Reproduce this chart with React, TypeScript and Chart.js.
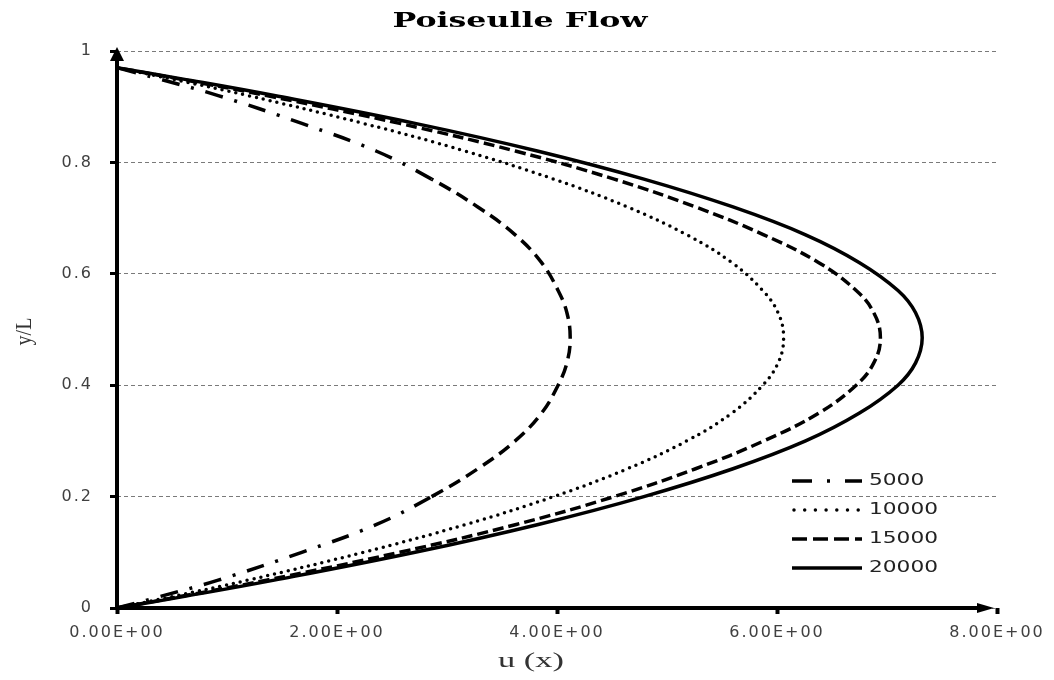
import React, { useEffect, useRef } from "react";
import { Chart, registerables } from "chart.js";

Chart.register(...registerables);

// y/L levels at which the velocity profiles were read
const yLevels = [0, 0.02, 0.05, 0.1, 0.15, 0.2, 0.25, 0.3, 0.35, 0.4, 0.44, 0.485, 0.53, 0.57, 0.62, 0.67, 0.72, 0.77, 0.82, 0.87, 0.92, 0.95, 0.97];

// u(x) for each series
const u5000 = [0, 0.38, 0.92, 1.68, 2.36, 2.86, 3.28, 3.62, 3.86, 4.01, 4.09, 4.12, 4.09, 4.01, 3.86, 3.62, 3.28, 2.86, 2.36, 1.68, 0.92, 0.38, 0];
const u10000 = [0, 0.49, 1.19, 2.24, 3.17, 3.97, 4.64, 5.18, 5.59, 5.87, 6.01, 6.06, 6.01, 5.87, 5.59, 5.18, 4.64, 3.97, 3.17, 2.24, 1.19, 0.49, 0];
const u15000 = [0, 0.56, 1.36, 2.57, 3.63, 4.52, 5.26, 5.88, 6.38, 6.72, 6.88, 6.94, 6.88, 6.72, 6.38, 5.88, 5.26, 4.52, 3.63, 2.57, 1.36, 0.56, 0];
const u20000 = [0, 0.59, 1.43, 2.71, 3.83, 4.79, 5.6, 6.26, 6.75, 7.1, 7.26, 7.32, 7.26, 7.1, 6.75, 6.26, 5.6, 4.79, 3.83, 2.71, 1.43, 0.59, 0];

const seriesNames = ["5000", "10000", "15000", "20000"];
const seriesValues = [u5000, u10000, u15000, u20000];

const xTickLabels = ["0.00E+00", "2.00E+00", "4.00E+00", "6.00E+00", "8.00E+00"];
const yTickLabels = ["0", "0.2", "0.4", "0.6", "0.8", "1"];

const titleText = "Poiseulle Flow";
const xTitle = "u (x)";
const yTitle = "y/L";

// styles
const dashDot = [18, 12, 3, 12];
const midDash = [13, 7];
const curveDash = [[18, 12, 3, 12], [0, 7], [11, 5], []];
const curveCap = ["butt", "round", "butt", "butt"];
const legendDash = [[20, 15, 3, 15], [0, 10.7], [15, 6], []];

const decorPlugin = {
  id: "decor",
  beforeDraw(chart: any) {
    chart.ctx.letterSpacing = "2px";
  },
  afterDatasetsDraw(chart: any) {
    const { ctx, chartArea: a } = chart;
    ctx.save();
    ctx.setLineDash([]);
    ctx.strokeStyle = "#000";
    ctx.fillStyle = "#000";
    ctx.lineWidth = 4;
    ctx.lineCap = "butt";
    ctx.beginPath();
    ctx.moveTo(a.left, a.bottom + 2);
    ctx.lineTo(a.left, a.top + 8);
    ctx.moveTo(a.left - 2, a.bottom);
    ctx.lineTo(a.right - 16, a.bottom);
    ctx.stroke();
    ctx.beginPath();
    ctx.moveTo(a.left, a.top - 4);
    ctx.lineTo(a.left - 7, a.top + 10);
    ctx.lineTo(a.left + 7, a.top + 10);
    ctx.closePath();
    ctx.fill();
    ctx.beginPath();
    ctx.moveTo(a.right - 3, a.bottom);
    ctx.lineTo(a.right - 20, a.bottom - 5);
    ctx.lineTo(a.right - 20, a.bottom + 5);
    ctx.closePath();
    ctx.fill();
    ctx.restore();
  },
  afterDraw(chart: any) {
    const { ctx, chartArea: a } = chart;
    ctx.save();
    ctx.letterSpacing = "0px";
    ctx.setLineDash([]);
    // title
    ctx.fillStyle = "#000";
    ctx.font = 'bold 21px "DejaVu Serif"';
    ctx.textAlign = "center";
    ctx.textBaseline = "alphabetic";
    const tw = ctx.measureText(titleText).width;
    ctx.save();
    ctx.translate((a.left + a.right) / 2 - 37, 27);
    ctx.scale(255 / tw, 1);
    ctx.fillText(titleText, 0, 0);
    ctx.restore();
    // x title
    ctx.fillStyle = "#333";
    ctx.font = '20px "Liberation Serif"';
    const xw = ctx.measureText(xTitle).width;
    ctx.save();
    ctx.translate(531, a.bottom + 59);
    ctx.scale(66 / xw, 1);
    ctx.fillText(xTitle, 0, 0);
    ctx.restore();
    // y title
    ctx.save();
    ctx.translate(31, (a.top + a.bottom) / 2 + 2);
    ctx.rotate(-Math.PI / 2);
    ctx.scale(1, 1.15);
    ctx.fillText(yTitle, 0, 0);
    ctx.restore();
    // legend
    ctx.font = '16px "DejaVu Sans"';
    ctx.textAlign = "left";
    ctx.textBaseline = "middle";
    for (let i = 0; i < seriesNames.length; i++) {
      const y = a.top + 430 + i * 29;
      const x0 = a.right - 205;
      const x1 = a.right - 135;
      ctx.save();
      ctx.strokeStyle = "#000";
      ctx.lineWidth = 3.5;
      ctx.lineCap = curveCap[i];
      ctx.setLineDash(legendDash[i]);
      ctx.beginPath();
      ctx.moveTo(i === 1 ? x0 + 2 : x0, y);
      ctx.lineTo(x1, y);
      ctx.stroke();
      ctx.restore();
      ctx.fillStyle = "#222";
      const lw = ctx.measureText(seriesNames[i]).width;
      ctx.save();
      ctx.translate(a.right - 128, y);
      ctx.scale((seriesNames[i].length * 13.8) / lw, 1);
      ctx.fillText(seriesNames[i], 0, 0);
      ctx.restore();
    }
    ctx.restore();
  },
};

export default function App() {
  const ref = useRef<HTMLCanvasElement | null>(null);

  useEffect(() => {
    document.body.style.margin = "0";
    const canvas = ref.current;
    if (!canvas) return;
    const tickFont = { family: '"DejaVu Sans"', size: 16 };
    const chart = new Chart(canvas, {
      type: "scatter",
      data: {
        datasets: seriesNames.map((name, i) => ({
          label: name,
          data: yLevels.map((y, j) => ({ x: seriesValues[i][j], y })),
          showLine: true,
          borderColor: "#000",
          backgroundColor: "#000",
          borderWidth: 3.5,
          borderDash: curveDash[i],
          borderCapStyle: curveCap[i],
          pointRadius: 0,
          pointHoverRadius: 0,
          tension: 0.4,
          fill: false,
          clip: false,
          segment:
            i === 0
              ? {
                  borderDash: (c: any) => {
                    const y0 = c.p0.parsed.y;
                    const y1 = c.p1.parsed.y;
                    return Math.min(y0, y1) >= 0.2 && Math.max(y0, y1) <= 0.77 ? midDash : dashDot;
                  },
                }
              : undefined,
        })) as any,
      },
      options: {
        animation: false,
        responsive: false,
        devicePixelRatio: 1,
        layout: { padding: { top: 51, right: 57, left: 0, bottom: 0 } },
        plugins: {
          legend: { display: false },
          title: { display: false },
          tooltip: { enabled: false },
        },
        scales: {
          x: {
            type: "linear",
            min: 0,
            max: 8,
            ticks: {
              stepSize: 2,
              autoSkip: false,
              maxRotation: 0,
              font: tickFont,
              color: "#404040",
              padding: 9,
              callback: (_v: any, idx: number) => xTickLabels[idx],
            },
            grid: { drawOnChartArea: false, drawTicks: true, tickLength: 6, tickWidth: 4, tickColor: "#000" },
            border: { display: false },
            afterFit: (s: any) => {
              s.height = 72;
            },
          },
          y: {
            type: "linear",
            min: 0,
            max: 1,
            ticks: {
              stepSize: 0.2,
              font: tickFont,
              color: "#404040",
              padding: 17,
              callback: (_v: any, idx: number) => yTickLabels[idx],
            },
            grid: { color: "#7a7a7a", lineWidth: 1, drawTicks: true, tickLength: 7, tickWidth: 3, tickColor: "#000" },
            border: { display: false, dash: [4, 3] },
            afterFit: (s: any) => {
              s.width = 117;
            },
          },
        },
      } as any,
      plugins: [decorPlugin],
    });
    return () => chart.destroy();
  }, []);

  return (
    <div style={{ width: 1054, height: 680 }}>
      <canvas ref={ref} width={1054} height={680} style={{ display: "block" }} />
    </div>
  );
}
